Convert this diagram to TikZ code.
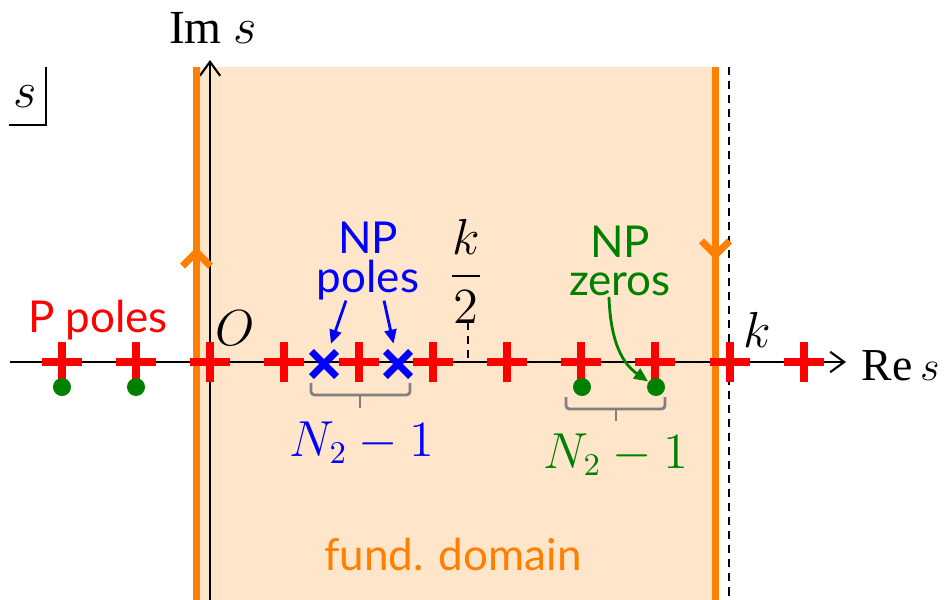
\documentclass[tikz,border=0pt]{standalone}
\usepackage{amsmath}
\usepackage{fontspec}
\setmainfont{Liberation Serif}
\setsansfont{Lato}
\usetikzlibrary{arrows.meta, positioning, calc, shapes.misc, decorations.markings}
\definecolor{npgreen}{RGB}{0,128,0}
\definecolor{domainfill}{RGB}{255,229,201}
\tikzset{
    splane/.style={>={Straight Barb[length=4pt,width=5.8pt]}, x=0.01cm, y=-0.01cm,
        font=\fontsize{13.5}{16}\selectfont},
    saxis/.style={line width=0.6pt},
    bdry/.style={draw=orange, line width=2pt},
    period/.style={line width=0.6pt, dash pattern=on 2.3pt off 1.7pt},
    lbl/.style={font=\sffamily\fontsize{12.5}{11}\selectfont, align=center, inner sep=0pt},
    ppole/.style={cross out, draw=red, line width=2.3pt, rotate=45, minimum size=0.205cm, inner sep=0pt},
    npole/.style={cross out, draw=blue, line width=2pt, minimum size=0.18cm, inner sep=0pt},
    nzero/.style={circle, fill=npgreen, minimum size=0.18cm, inner sep=0pt},
    bracket/.style={draw=gray, line width=0.8pt, rounded corners=1pt},
    nparrow/.style={-{Triangle[length=0.14cm,width=0.12cm]}, line width=0.8pt},
    % chevrons on the contour: up on the left edge, down on the right one
    upmark/.style={postaction={decorate}, decoration={markings,
        mark=at position 0.662 with {\arrow{Straight Barb[length=0.14cm,width=0.28cm]}}}},
    downmark/.style={postaction={decorate}, decoration={markings,
        mark=at position 0.362 with {\arrow{Straight Barb[length=0.14cm,width=0.28cm]}}}},
}

\begin{document}
\begin{tikzpicture}[splane]
    \useasboundingbox (0,0) rectangle (945,600);
    % fundamental domain
    \fill[domainfill] (197,67) rectangle (716,600);
    \draw[period] (729,67) -- (729,600);

    \coordinate (re0) at (10,362);
    \coordinate (re1) at (846,362);
    \coordinate (im0) at (210,600);
    \coordinate (im1) at (210,60);
    \draw[saxis, ->] (re0) -- (re1);
    \draw[saxis, ->] (im0) -- (im1);
    \node[anchor=base west, inner sep=0pt, font=\fontsize{13}{16}\selectfont] (relab) at (861,380) {Re\,$s$};
    \node[anchor=base, inner sep=0pt] (imlab) at (213,43) {Im $s$};

    \node[anchor=base, inner sep=0pt] (sname) at (25,107) {$s$};
    \draw[line width=0.85pt] (46,67) |- (9,125);

    \draw[bdry, upmark]   (196.5,600) -- (196.5,67);
    \draw[bdry, downmark] (715.5,67) -- (715.5,600);
    \draw[period] (468,322) -- (468,362);

    \foreach \x [count=\i] in {62,136,210,284,359,433,507,581,655,730,804}
        \node[ppole] (p\i) at (\x,362) {};
    \node[npole] (x1) at (324,364) {};
    \node[npole] (x2) at (398,364) {};
    \node[nzero] (z1) at (62,387)  {};
    \node[nzero] (z2) at (136,387) {};
    \node[nzero] (z3) at (582,387) {};
    \node[nzero] (z4) at (656,387) {};

    \node[anchor=base, inner sep=0pt] (orig)  at (235,345) {$O$};
    \node[anchor=base, inner sep=0pt] (khalf) at (466,289) {$\displaystyle\frac{k}{2}$};
    \node[anchor=base, inner sep=0pt] (kpt)   at (757,347) {$k$};

    \node[lbl, red, anchor=base]    (ppoles)  at (98,332)  {P poles};
    \node[lbl, blue]                (nppoles) at (368,261) {NP\\poles};
    \node[lbl, npgreen]             (npzeros) at (620,261) {NP\\zeros};
    \node[lbl, orange, anchor=base] (fund)    at (453,570) {fund. domain};

    \draw[nparrow, blue, shorten >=0.08cm] ([xshift=-0.22cm]nppoles.south) -- (x1);
    \draw[nparrow, blue, shorten >=0.08cm] ([xshift=0.16cm]nppoles.south) -- (x2);
    \draw[nparrow, npgreen] ([xshift=-0.11cm]npzeros.south) to[out=-88, in=145] (z4);

    \draw[bracket] (311,383) |- (410,395) -- (410,383);
    \draw[bracket] (360,395) -- (360,408);
    \draw[bracket] (566,397) |- (665,409) -- (665,397);
    \draw[bracket] (616,409) -- (616,421);
    \node[anchor=base, inner sep=0pt, blue]    (nb) at (362,456) {$N_2-1$};
    \node[anchor=base, inner sep=0pt, npgreen] (ng) at (616,468) {$N_2-1$};
\end{tikzpicture}
\end{document}
